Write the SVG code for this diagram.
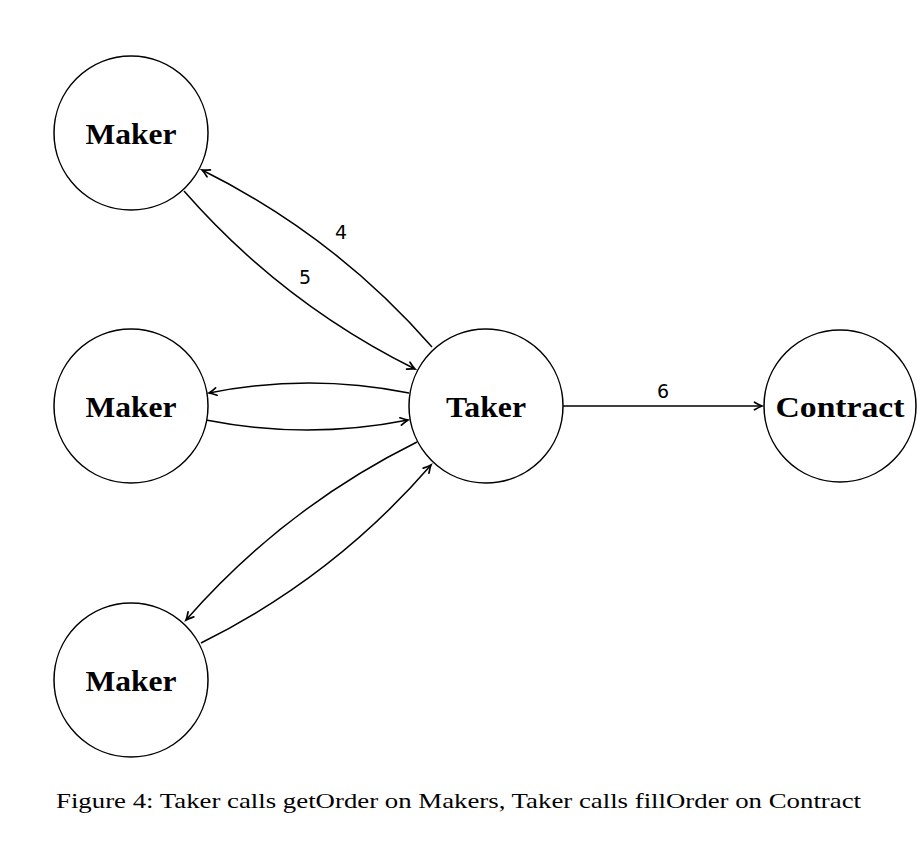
<svg xmlns="http://www.w3.org/2000/svg" width="917" height="867" viewBox="0 0 917 867">
<defs>
<marker id="arr" markerWidth="12" markerHeight="10" viewBox="-8 -5 10 10" refX="0" refY="0" orient="auto" markerUnits="userSpaceOnUse">
<path d="M -7.5,-3.8 Q -2.5,-0.8 0,0 Q -2.5,0.8 -7.5,3.8" fill="none" stroke="#000" stroke-width="1.7" stroke-linecap="round"/>
</marker>
</defs>
<style>
.node circle { fill: #fff; stroke: #000; stroke-width: 1.5; }
.node text { font-family: "Liberation Serif", "DejaVu Serif", serif; font-weight: bold; font-size: 29px; text-anchor: middle; fill: #000; }
.edges path { fill: none; stroke: #000; stroke-width: 1.5; marker-end: url(#arr); }
.lbl { font-family: "DejaVu Sans", "Liberation Sans", sans-serif; font-size: 19px; text-anchor: middle; fill: #000; }
.cap { font-family: "Liberation Serif", "DejaVu Serif", serif; font-size: 22px; fill: #000; }
</style>
<rect width="917" height="867" fill="#fff"/>
<g class="edges" id="connectors">
<path d="M 432,347 Q 335,236 202,170"/>
<path d="M 184,191 Q 282,303 415,369"/>
<path d="M 409,393 Q 309,373 209,393"/>
<path d="M 206,420 Q 307,440 408,420"/>
<path d="M 417,442 Q 284,508 186,620"/>
<path d="M 201,643 Q 334,577 431,465"/>
<path d="M 563,406 L 762,406"/>
<text class="lbl" x="341" y="239">4</text>
<text class="lbl" x="305" y="284">5</text>
<text class="lbl" x="663" y="398">6</text>
</g>
<g class="node" id="maker1">
<circle cx="131" cy="133" r="77"/>
<text x="131" y="144" textLength="91" lengthAdjust="spacingAndGlyphs">Maker</text>
</g>
<g class="node" id="maker2">
<circle cx="131" cy="406" r="77"/>
<text x="131" y="417" textLength="91" lengthAdjust="spacingAndGlyphs">Maker</text>
</g>
<g class="node" id="maker3">
<circle cx="131" cy="680" r="77"/>
<text x="131" y="691" textLength="91" lengthAdjust="spacingAndGlyphs">Maker</text>
</g>
<g class="node" id="taker">
<circle cx="486" cy="406" r="77"/>
<text x="486" y="417" textLength="80" lengthAdjust="spacingAndGlyphs">Taker</text>
</g>
<g class="node" id="contract">
<circle cx="840" cy="406" r="76"/>
<text x="840" y="417" textLength="129" lengthAdjust="spacingAndGlyphs">Contract</text>
</g>
<text class="cap" x="56" y="808" textLength="805" lengthAdjust="spacingAndGlyphs">Figure 4: Taker calls getOrder on Makers, Taker calls fillOrder on Contract</text>
</svg>
